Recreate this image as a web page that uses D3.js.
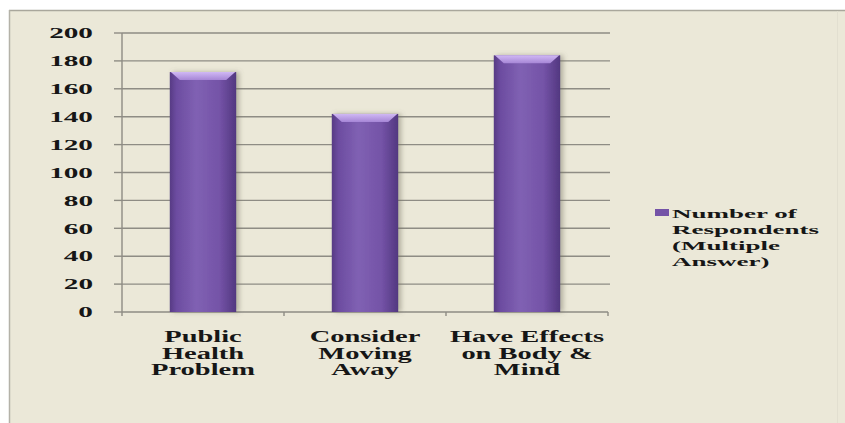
<!DOCTYPE html>
<html>
<head>
<meta charset="utf-8">
<script src="https://cdn.jsdelivr.net/npm/d3@7"></script>
<style>
  html, body { margin: 0; padding: 0; background: #fff; }
  svg { display: block; }
  text { font-family: "Liberation Serif", "Times New Roman", serif; font-weight: bold; fill: #161616; }
</style>
</head>
<body>
<svg id="chart" width="845" height="423"></svg>
<script>
// data
const categories = [
  ['Public', 'Health', 'Problem'],
  ['Consider', 'Moving', 'Away'],
  ['Have Effects', 'on Body &', 'Mind']
]
const respondents = [172, 142, 184]
const yTicks = [0, 20, 40, 60, 80, 100, 120, 140, 160, 180, 200]
const legendLines = ['Number of', 'Respondents', '(Multiple', 'Answer)']

var svg = d3.select('#chart')

// frame
svg.append('rect').attr('x', 9).attr('y', 10).attr('width', 836).attr('height', 413)
  .attr('fill', '#ebe8d8')
svg.append('line').attr('x1', 9).attr('x2', 845).attr('y1', 10.5).attr('y2', 10.5)
  .attr('stroke', '#a9a79c').attr('stroke-width', 1.5)
svg.append('line').attr('x1', 9.5).attr('x2', 9.5).attr('y1', 10).attr('y2', 423)
  .attr('stroke', '#b4b2a8').attr('stroke-width', 1.5)
svg.append('line').attr('x1', 837.5).attr('x2', 837.5).attr('y1', 11).attr('y2', 423)
  .attr('stroke', '#e2dfd0').attr('stroke-width', 1)

var x = d3.scaleBand().domain(d3.range(categories.length)).range([122, 608])
  .paddingInner(0.59).paddingOuter(0.295)
var y = d3.scaleLinear().domain([0, 200]).range([312, 33])

// grid
svg.append('g').selectAll('line').data(yTicks.slice(1)).join('line')
  .attr('x1', 122).attr('x2', 610)
  .attr('y1', d => y(d)).attr('y2', d => y(d))
  .attr('stroke', '#8e8c84').attr('stroke-width', 1.4)

// y axis
svg.append('line').attr('x1', 122).attr('x2', 122).attr('y1', y(200)).attr('y2', y(0))
  .attr('stroke', '#8e8c84').attr('stroke-width', 1.4)
svg.append('g').selectAll('line').data(yTicks).join('line')
  .attr('x1', 114).attr('x2', 122)
  .attr('y1', d => y(d)).attr('y2', d => y(d))
  .attr('stroke', '#8e8c84').attr('stroke-width', 1.4)
svg.append('g').selectAll('text').data(yTicks).join('text')
  .attr('transform', d => `translate(93,${y(d)}) scale(1.95,1)`)
  .attr('text-anchor', 'end').attr('dy', '0.35em')
  .style('font-size', '15px')
  .text(d => d)

// x axis
svg.append('line').attr('x1', 122).attr('x2', 608).attr('y1', y(0)).attr('y2', y(0))
  .attr('stroke', '#8e8c84').attr('stroke-width', 1.4)
var bounds = [x.range()[0]].concat(d3.range(categories.length).map(i => x(i) + x.bandwidth() / 2 + x.step() / 2))
svg.append('g').selectAll('line').data(bounds).join('line')
  .attr('x1', d => d).attr('x2', d => d).attr('y1', y(0)).attr('y2', y(0) + 4)
  .attr('stroke', '#8e8c84').attr('stroke-width', 1.4)

var defs = svg.append('defs')
var grad = defs.append('linearGradient').attr('id', 'barGrad')
  .attr('x1', '0%').attr('x2', '100%').attr('y1', '0%').attr('y2', '0%')
grad.selectAll('stop').data([
  ['0%', '#573a84'], ['10%', '#6c4ca0'], ['40%', '#8061b3'], ['75%', '#7453a7'], ['100%', '#523780']
]).join('stop').attr('offset', d => d[0]).attr('stop-color', d => d[1])
var topGrad = defs.append('linearGradient').attr('id', 'topGrad')
  .attr('x1', '0%').attr('x2', '0%').attr('y1', '0%').attr('y2', '100%')
topGrad.append('stop').attr('offset', '0%').attr('stop-color', '#d0b8f4')
topGrad.append('stop').attr('offset', '100%').attr('stop-color', '#a686d6')
var shadow = defs.append('filter').attr('id', 'shadow').attr('x', '-20%').attr('width', '150%')
shadow.append('feDropShadow').attr('dx', 3).attr('dy', 0).attr('stdDeviation', 2.5)
  .attr('flood-color', '#6d6a5a').attr('flood-opacity', 0.45)

// bars
var bars = svg.append('g').selectAll('g').data(respondents).join('g')
bars.append('rect')
  .attr('x', (d, i) => x(i)).attr('y', d => y(d))
  .attr('width', x.bandwidth()).attr('height', d => y(0) - y(d))
  .attr('fill', 'url(#barGrad)').attr('filter', 'url(#shadow)')
bars.append('path')
  .attr('d', (d, i) => {
    var x0 = x(i), x1 = x(i) + x.bandwidth(), t = y(d)
    return `M${x0 + 1},${t}L${x1 - 1},${t}L${x1 - 10},${t + 8}L${x0 + 10},${t + 8}Z`
  })
  .attr('fill', 'url(#topGrad)')

// category labels
var cat = svg.append('g').selectAll('g').data(categories).join('g')
  .attr('transform', (d, i) => `translate(${x(i) + x.bandwidth() / 2},342)`)
cat.selectAll('text').data(d => d).join('text')
  .attr('transform', (d, j) => `translate(0,${j * 16.5}) scale(1.78,1)`)
  .attr('text-anchor', 'middle')
  .style('font-size', '16px')
  .text(d => d)

// legend
svg.append('rect').attr('x', 655).attr('y', 209).attr('width', 14).attr('height', 7)
  .attr('fill', '#7453a7')
svg.append('g').selectAll('text').data(legendLines).join('text')
  .attr('transform', (d, j) => `translate(672,${218 + j * 16}) scale(2,1)`)
  .style('font-size', '13.5px')
  .text(d => d)
</script>
</body>
</html>
